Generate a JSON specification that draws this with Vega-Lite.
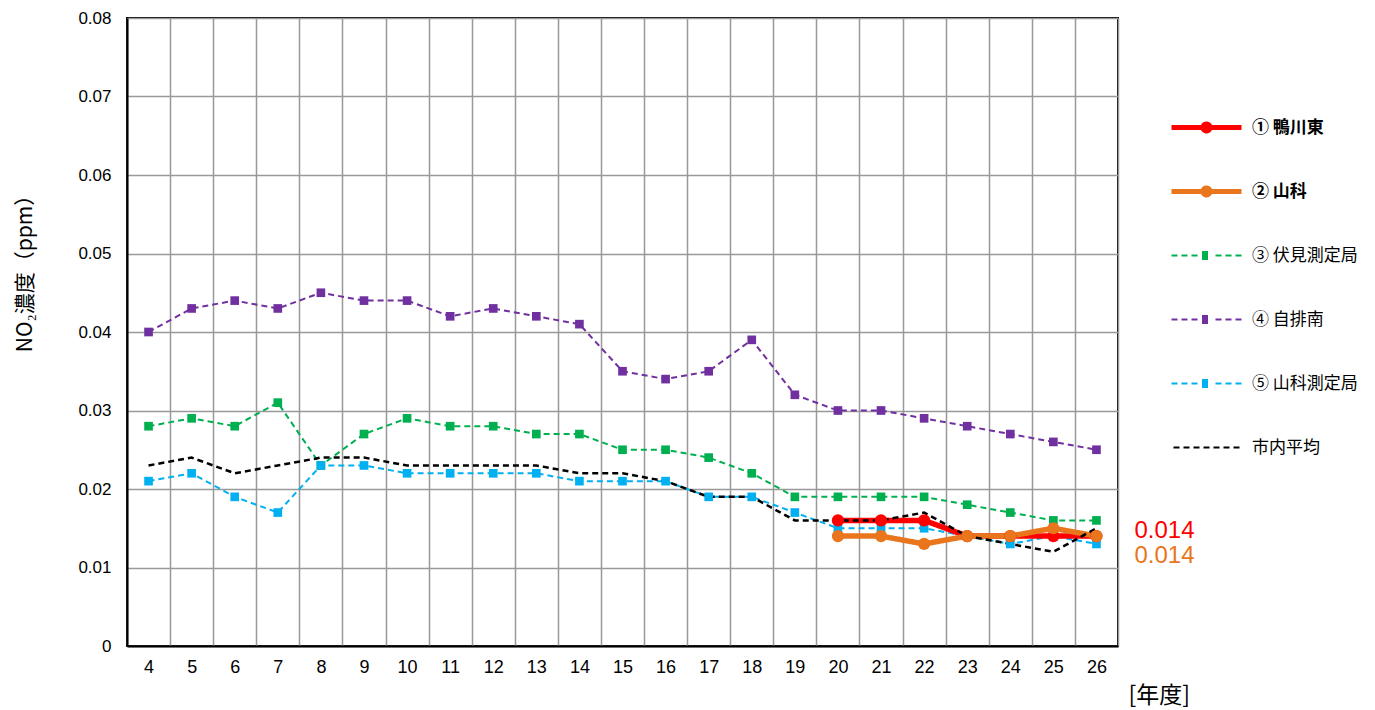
{
  "$schema": "https://vega.github.io/schema/vega-lite/v6.json",
  "autosize": {"type": "none"},
  "width": 991,
  "height": 628,
  "padding": {"left": 127, "top": 18, "right": 257, "bottom": 64},
  "background": "white",
  "config": {
    "font": "Liberation Sans",
    "view": {"stroke": "black", "strokeWidth": 2}
  },
  "datasets": {
    "main": [
      {"year": 4, "series": "④ 自排南", "value": 0.040},
      {"year": 5, "series": "④ 自排南", "value": 0.043},
      {"year": 6, "series": "④ 自排南", "value": 0.044},
      {"year": 7, "series": "④ 自排南", "value": 0.043},
      {"year": 8, "series": "④ 自排南", "value": 0.045},
      {"year": 9, "series": "④ 自排南", "value": 0.044},
      {"year": 10, "series": "④ 自排南", "value": 0.044},
      {"year": 11, "series": "④ 自排南", "value": 0.042},
      {"year": 12, "series": "④ 自排南", "value": 0.043},
      {"year": 13, "series": "④ 自排南", "value": 0.042},
      {"year": 14, "series": "④ 自排南", "value": 0.041},
      {"year": 15, "series": "④ 自排南", "value": 0.035},
      {"year": 16, "series": "④ 自排南", "value": 0.034},
      {"year": 17, "series": "④ 自排南", "value": 0.035},
      {"year": 18, "series": "④ 自排南", "value": 0.039},
      {"year": 19, "series": "④ 自排南", "value": 0.032},
      {"year": 20, "series": "④ 自排南", "value": 0.030},
      {"year": 21, "series": "④ 自排南", "value": 0.030},
      {"year": 22, "series": "④ 自排南", "value": 0.029},
      {"year": 23, "series": "④ 自排南", "value": 0.028},
      {"year": 24, "series": "④ 自排南", "value": 0.027},
      {"year": 25, "series": "④ 自排南", "value": 0.026},
      {"year": 26, "series": "④ 自排南", "value": 0.025},
      {"year": 4, "series": "③ 伏見測定局", "value": 0.028},
      {"year": 5, "series": "③ 伏見測定局", "value": 0.029},
      {"year": 6, "series": "③ 伏見測定局", "value": 0.028},
      {"year": 7, "series": "③ 伏見測定局", "value": 0.031},
      {"year": 8, "series": "③ 伏見測定局", "value": 0.023},
      {"year": 9, "series": "③ 伏見測定局", "value": 0.027},
      {"year": 10, "series": "③ 伏見測定局", "value": 0.029},
      {"year": 11, "series": "③ 伏見測定局", "value": 0.028},
      {"year": 12, "series": "③ 伏見測定局", "value": 0.028},
      {"year": 13, "series": "③ 伏見測定局", "value": 0.027},
      {"year": 14, "series": "③ 伏見測定局", "value": 0.027},
      {"year": 15, "series": "③ 伏見測定局", "value": 0.025},
      {"year": 16, "series": "③ 伏見測定局", "value": 0.025},
      {"year": 17, "series": "③ 伏見測定局", "value": 0.024},
      {"year": 18, "series": "③ 伏見測定局", "value": 0.022},
      {"year": 19, "series": "③ 伏見測定局", "value": 0.019},
      {"year": 20, "series": "③ 伏見測定局", "value": 0.019},
      {"year": 21, "series": "③ 伏見測定局", "value": 0.019},
      {"year": 22, "series": "③ 伏見測定局", "value": 0.019},
      {"year": 23, "series": "③ 伏見測定局", "value": 0.018},
      {"year": 24, "series": "③ 伏見測定局", "value": 0.017},
      {"year": 25, "series": "③ 伏見測定局", "value": 0.016},
      {"year": 26, "series": "③ 伏見測定局", "value": 0.016},
      {"year": 4, "series": "⑤ 山科測定局", "value": 0.021},
      {"year": 5, "series": "⑤ 山科測定局", "value": 0.022},
      {"year": 6, "series": "⑤ 山科測定局", "value": 0.019},
      {"year": 7, "series": "⑤ 山科測定局", "value": 0.017},
      {"year": 8, "series": "⑤ 山科測定局", "value": 0.023},
      {"year": 9, "series": "⑤ 山科測定局", "value": 0.023},
      {"year": 10, "series": "⑤ 山科測定局", "value": 0.022},
      {"year": 11, "series": "⑤ 山科測定局", "value": 0.022},
      {"year": 12, "series": "⑤ 山科測定局", "value": 0.022},
      {"year": 13, "series": "⑤ 山科測定局", "value": 0.022},
      {"year": 14, "series": "⑤ 山科測定局", "value": 0.021},
      {"year": 15, "series": "⑤ 山科測定局", "value": 0.021},
      {"year": 16, "series": "⑤ 山科測定局", "value": 0.021},
      {"year": 17, "series": "⑤ 山科測定局", "value": 0.019},
      {"year": 18, "series": "⑤ 山科測定局", "value": 0.019},
      {"year": 19, "series": "⑤ 山科測定局", "value": 0.017},
      {"year": 20, "series": "⑤ 山科測定局", "value": 0.015},
      {"year": 21, "series": "⑤ 山科測定局", "value": 0.015},
      {"year": 22, "series": "⑤ 山科測定局", "value": 0.015},
      {"year": 23, "series": "⑤ 山科測定局", "value": 0.014},
      {"year": 24, "series": "⑤ 山科測定局", "value": 0.013},
      {"year": 25, "series": "⑤ 山科測定局", "value": 0.014},
      {"year": 26, "series": "⑤ 山科測定局", "value": 0.013},
      {"year": 4, "series": "市内平均", "value": 0.023},
      {"year": 5, "series": "市内平均", "value": 0.024},
      {"year": 6, "series": "市内平均", "value": 0.022},
      {"year": 7, "series": "市内平均", "value": 0.023},
      {"year": 8, "series": "市内平均", "value": 0.024},
      {"year": 9, "series": "市内平均", "value": 0.024},
      {"year": 10, "series": "市内平均", "value": 0.023},
      {"year": 11, "series": "市内平均", "value": 0.023},
      {"year": 12, "series": "市内平均", "value": 0.023},
      {"year": 13, "series": "市内平均", "value": 0.023},
      {"year": 14, "series": "市内平均", "value": 0.022},
      {"year": 15, "series": "市内平均", "value": 0.022},
      {"year": 16, "series": "市内平均", "value": 0.021},
      {"year": 17, "series": "市内平均", "value": 0.019},
      {"year": 18, "series": "市内平均", "value": 0.019},
      {"year": 19, "series": "市内平均", "value": 0.016},
      {"year": 20, "series": "市内平均", "value": 0.016},
      {"year": 21, "series": "市内平均", "value": 0.016},
      {"year": 22, "series": "市内平均", "value": 0.017},
      {"year": 23, "series": "市内平均", "value": 0.014},
      {"year": 24, "series": "市内平均", "value": 0.013},
      {"year": 25, "series": "市内平均", "value": 0.012},
      {"year": 26, "series": "市内平均", "value": 0.015},
      {"year": 20, "series": "① 鴨川東", "value": 0.016},
      {"year": 21, "series": "① 鴨川東", "value": 0.016},
      {"year": 22, "series": "① 鴨川東", "value": 0.016},
      {"year": 23, "series": "① 鴨川東", "value": 0.014},
      {"year": 24, "series": "① 鴨川東", "value": 0.014},
      {"year": 25, "series": "① 鴨川東", "value": 0.014},
      {"year": 26, "series": "① 鴨川東", "value": 0.014},
      {"year": 20, "series": "② 山科", "value": 0.014},
      {"year": 21, "series": "② 山科", "value": 0.014},
      {"year": 22, "series": "② 山科", "value": 0.013},
      {"year": 23, "series": "② 山科", "value": 0.014},
      {"year": 24, "series": "② 山科", "value": 0.014},
      {"year": 25, "series": "② 山科", "value": 0.015},
      {"year": 26, "series": "② 山科", "value": 0.014}
    ],
    "labels": [
      {"year": 26, "series": "① 鴨川東", "value": 0.014, "text": "0.014"},
      {"year": 26, "series": "② 山科", "value": 0.014, "text": "0.014"}
    ]
  },
  "data": {"name": "main"},
  "encoding": {
    "x": {
      "field": "year", "type": "ordinal", "bandPosition": 0.5,
      "scale": {"type": "band", "paddingInner": 0, "paddingOuter": 0,
        "domain": [4,5,6,7,8,9,10,11,12,13,14,15,16,17,18,19,20,21,22,23,24,25,26]},
      "axis": {
        "title": "[年度]", "tickBand": "extent", "grid": true, "gridColor": "#999999", "gridWidth": 1.5,
        "ticks": false, "domainColor": "black", "domainWidth": 2, "labelAngle": 0,
        "labelFont": "Liberation Sans", "labelFontSize": 18, "labelPadding": 12, "labelColor": "black",
        "titleFont": "Noto Sans CJK JP", "titleFontSize": 23, "titleFontWeight": "normal", "titleColor": "black",
        "titleX": 1001, "titleY": 49, "titleAlign": "left", "titleBaseline": "middle", "titleAnchor": null
      }
    },
    "y": {
      "field": "value", "type": "quantitative",
      "scale": {"domain": [0, 0.08], "nice": false, "zero": true},
      "axis": {
        "title": "NO₂濃度（ppm）", "values": [0, 0.01, 0.02, 0.03, 0.04, 0.05, 0.06, 0.07, 0.08],
        "labelExpr": "datum.value == 0 ? '0' : format(datum.value, '.2f')",
        "grid": true, "gridColor": "#999999", "gridWidth": 1.5, "ticks": false,
        "domainColor": "black", "domainWidth": 2, "labelFontSize": 17, "labelPadding": 16, "labelColor": "black",
        "titleFont": "Noto Sans CJK JP", "titleFontSize": 21, "titleFontWeight": "normal", "titleColor": "black",
        "titleX": -102, "titleY": 250, "titleAlign": "center", "titleBaseline": "middle", "titleAngle": -90
      }
    },
    "color": {
      "field": "series", "type": "nominal",
      "scale": {
        "domain": ["① 鴨川東", "② 山科", "③ 伏見測定局", "④ 自排南", "⑤ 山科測定局", "市内平均"],
        "range": ["#FF0000", "#E9761C", "#00B050", "#7030A0", "#00B0F0", "#000000"]
      },
      "legend": {
        "title": null, "orient": "none", "legendX": 1071, "legendY": 101, "padding": 0,
        "rowPadding": 37, "gridAlign": "all", "labelOffset": 37, "labelFont": "Noto Sans CJK JP", "labelFontSize": 17,
        "labelColor": "black", "symbolSize": 1225, "labelLimit": 300,
        "encode": {
          "symbols": {"update": {
            "shape": {"signal": "indexof(['① 鴨川東','② 山科'], datum.value) >= 0 ? 'M-2,0L2,0M0.2,0A0.2,0.2,0,1,1,-0.2,0A0.2,0.2,0,1,1,0.2,0M0.05,0A0.05,0.05,0,1,1,-0.05,0A0.05,0.05,0,1,1,0.05,0' : (datum.value === '市内平均' ? 'M-1.886,0L-1.543,0M-1.314,0L-0.971,0M-0.743,0L-0.4,0M-0.171,0L0.171,0M0.4,0L0.743,0M0.971,0L1.314,0M1.543,0L1.886,0' : 'M-2,0L-1.657,0M-1.429,0L-1.086,0M-0.857,0L-0.514,0M0.514,0L0.857,0M1.086,0L1.429,0M1.657,0L2,0M-0.257,-0.2L0.257,-0.2M-0.257,-0.086L0.257,-0.086M-0.257,0.029L0.257,0.029M-0.257,0.143L0.257,0.143M-0.257,0.2L0.257,0.2')"},
            "size": {"value": 1225},
            "strokeDash": {"value": [1, 0]},
            "strokeCap": {"value": "butt"},
            "strokeWidth": {"signal": "indexof(['① 鴨川東','② 山科'], datum.value) >= 0 ? 5 : 2"},
            "opacity": {"value": 1},
            "strokeOpacity": {"value": 1}
          }},
          "labels": {"update": {
            "fontWeight": {"signal": "indexof(['① 鴨川東','② 山科'], datum.value) >= 0 ? 'bold' : 'normal'"}
          }}
        }
      }
    },
    "strokeDash": {
      "field": "series", "type": "nominal",
      "scale": {
        "domain": ["① 鴨川東", "② 山科", "③ 伏見測定局", "④ 自排南", "⑤ 山科測定局", "市内平均"],
        "range": [[1, 0], [1, 0], [6, 4], [6, 4], [6, 4], [6, 4]]
      },
      "legend": null
    }
  },
  "layer": [
    {
      "transform": [{"filter": "indexof(['③ 伏見測定局','④ 自排南','⑤ 山科測定局'], datum.series) >= 0"}],
      "mark": {"type": "line", "strokeWidth": 2}
    },
    {
      "transform": [{"filter": "indexof(['① 鴨川東','② 山科'], datum.series) >= 0"}],
      "mark": {"type": "line", "strokeWidth": 5.5, "strokeJoin": "round"}
    },
    {
      "transform": [{"filter": "datum.series === '市内平均'"}],
      "mark": {"type": "line", "strokeWidth": 2.5}
    },
    {
      "transform": [{"filter": "indexof(['③ 伏見測定局','④ 自排南','⑤ 山科測定局'], datum.series) >= 0"}],
      "mark": {"type": "point", "filled": true, "opacity": 1, "shape": "square", "size": 75},
      "encoding": {"strokeDash": {"value": [1, 0]}}
    },
    {
      "transform": [{"filter": "indexof(['① 鴨川東','② 山科'], datum.series) >= 0"}],
      "mark": {"type": "point", "filled": true, "opacity": 1, "shape": "circle", "size": 150},
      "encoding": {"strokeDash": {"value": [1, 0]}}
    },
    {
      "data": {"name": "labels"},
      "transform": [{"filter": "datum.series === '① 鴨川東'"}],
      "mark": {"type": "text", "align": "left", "baseline": "middle", "dx": 38, "dy": -5, "fontSize": 24},
      "encoding": {"text": {"field": "text"}, "color": {"value": "#FF0000"}, "strokeDash": {"value": [1, 0]}}
    },
    {
      "data": {"name": "labels"},
      "transform": [{"filter": "datum.series === '② 山科'"}],
      "mark": {"type": "text", "align": "left", "baseline": "middle", "dx": 38, "dy": 20, "fontSize": 24},
      "encoding": {"text": {"field": "text"}, "color": {"value": "#E9761C"}, "strokeDash": {"value": [1, 0]}}
    }
  ]
}
